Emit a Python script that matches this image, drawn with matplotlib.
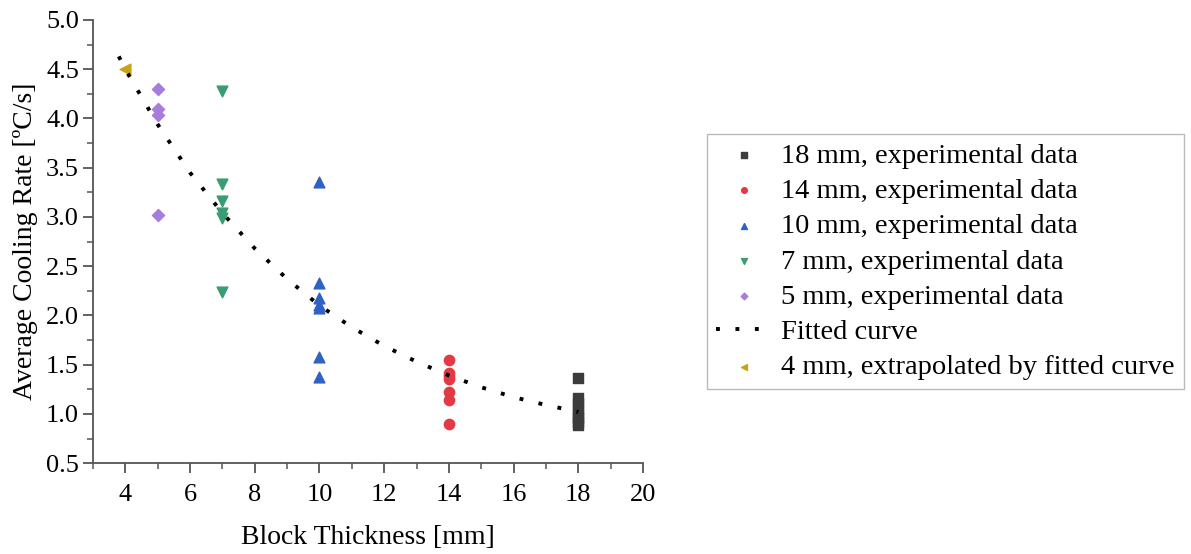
import numpy as np
import matplotlib
matplotlib.use('Agg')
import matplotlib.pyplot as plt
from matplotlib.ticker import MultipleLocator

plt.rcParams['font.family'] = ['Liberation Serif', 'DejaVu Serif']

# 读图得到的数据
x18 = [18] * 8
y18 = [1.36, 1.16, 1.11, 1.05, 1.00, 0.96, 0.92, 0.89]
x14 = [14] * 7
y14 = [1.55, 1.42, 1.38, 1.35, 1.22, 1.14, 0.90]
x10 = [10] * 7
y10 = [3.35, 2.33, 2.18, 2.11, 2.08, 1.58, 1.37]
x7 = [7] * 6
y7 = [4.28, 3.33, 3.16, 3.04, 2.99, 2.24]
x5 = [5] * 4
y5 = [4.30, 4.10, 4.03, 3.02]
x4 = [4]
y4 = [4.50]
# 拟合曲线
fit_x = [3.8, 4, 5, 6, 7, 8, 9, 10, 11, 12, 13, 14, 15, 16, 17, 18]
fit_y = [4.63, 4.50, 3.94, 3.45, 3.04, 2.68, 2.37, 2.10, 1.88, 1.69, 1.53, 1.39, 1.27, 1.17, 1.09, 1.02]

fig = plt.figure(figsize=(11.91, 5.54), dpi=100)
ax = fig.add_axes([0.078, 0.164, 0.462, 0.800])

ax.scatter(x18, y18, marker='s', s=45, color='#3c3c3c', label='18 mm, experimental data', zorder=3)
ax.scatter(x14, y14, marker='o', s=55, color='#e23a45', label='14 mm, experimental data', zorder=3)
ax.scatter(x10, y10, marker='^', s=60, color='#2f62c4', label='10 mm, experimental data', zorder=3)
ax.scatter(x7, y7, marker='v', s=60, color='#3a9c72', label='7 mm, experimental data', zorder=3)
ax.scatter(x5, y5, marker='D', s=38, color='#a77cdb', label='5 mm, experimental data', zorder=3)
ax.plot(fit_x, fit_y, color='black', linestyle=(0, (1, 4)), linewidth=2.8,
        label='Fitted curve', zorder=4)
ax.scatter(x4, y4, marker='<', s=60, color='#c9a313', label='4 mm, extrapolated by fitted curve', zorder=3)

ax.set_xlim(3, 20)
ax.set_ylim(0.5, 5.0)
ax.xaxis.set_major_locator(MultipleLocator(2))
ax.xaxis.set_minor_locator(MultipleLocator(1))
ax.yaxis.set_major_locator(MultipleLocator(0.5))
ax.yaxis.set_minor_locator(MultipleLocator(0.25))
ax.set_xticks([4, 6, 8, 10, 12, 14, 16, 18, 20])

for side in ['top', 'right']:
    ax.spines[side].set_visible(False)
for side in ['left', 'bottom']:
    ax.spines[side].set_color('#555555')
    ax.spines[side].set_linewidth(1.3)
ax.tick_params(which='major', length=7, width=1.3, color='#555555', labelsize=19, pad=3)
ax.tick_params(which='minor', length=4, width=1.1, color='#555555')
ax.tick_params(axis='x', which='major', pad=8)

ax.set_xlabel('Block Thickness [mm]', fontsize=20, labelpad=14)
ax.set_ylabel('Average Cooling Rate [ºC/s]', fontsize=20, labelpad=6)

handles, labels = ax.get_legend_handles_labels()
leg = fig.legend(handles, labels, loc='upper left', bbox_to_anchor=(0.594, 0.758),
                 fontsize=20.5, frameon=True, fancybox=False, markerscale=0.55,
                 handlelength=2.0, handletextpad=0.3, labelspacing=0.33,
                 borderpad=0.3, borderaxespad=0)
leg.get_frame().set_edgecolor('#aaaaaa')
leg.get_frame().set_linewidth(1.0)

fig.savefig('out.png', dpi=100)
